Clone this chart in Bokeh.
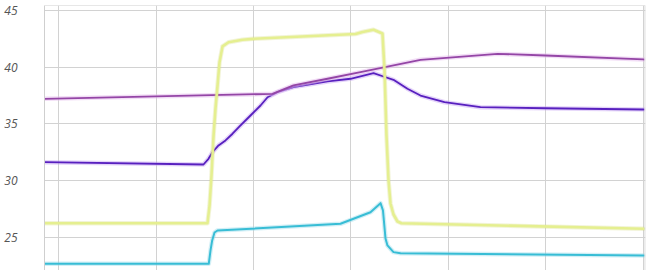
from bokeh.plotting import figure
from bokeh.models import Range1d, FixedTicker, Span
from bokeh.embed import file_html
from bokeh.resources import INLINE

# Sampled readings per series (x in hours, y in units)
lime_x = [0.856, 2.528, 2.549, 2.569, 2.590, 2.610, 2.631, 2.651, 2.682, 2.744, 2.887, 3.0,
          4.046, 4.118, 4.231, 4.323, 4.344, 4.364, 4.385, 4.405, 4.436, 4.477, 4.518, 7.0]
lime_y = [26.24, 26.24, 27.80, 30.45, 33.98, 36.36, 38.39, 40.41, 41.83, 42.20, 42.42, 42.50,
          42.93, 43.10, 43.30, 42.97, 39.71, 33.98, 30.01, 27.98, 27.01, 26.39, 26.24, 25.75]

plum_x = [0.856, 3.195, 3.410, 3.759, 4.097, 4.713, 5.503, 5.995, 7.0]
plum_y = [37.21, 37.65, 38.39, 38.98, 39.56, 40.65, 41.18, 41.03, 40.68]

violet_x = [0.856, 2.487, 2.538, 2.579, 2.641, 2.713, 2.785, 2.867, 2.969, 3.072, 3.144, 3.246,
            3.410, 3.759, 3.995, 4.231, 4.333, 4.436, 4.579, 4.713, 4.959, 5.328, 5.995, 7.0]
violet_y = [31.62, 31.42, 31.92, 32.50, 33.10, 33.54, 34.13, 34.86, 35.74, 36.62, 37.35, 37.80,
            38.24, 38.74, 38.98, 39.47, 39.18, 38.89, 38.10, 37.50, 36.91, 36.47, 36.38, 36.27]

cyan_x = [0.856, 2.541, 2.559, 2.576, 2.600, 2.631, 3.892, 4.026, 4.200, 4.303, 4.328, 4.354,
          4.374, 4.436, 4.508, 7.0]
cyan_y = [22.66, 22.66, 23.84, 24.72, 25.42, 25.60, 26.19, 26.63, 27.21, 28.01, 27.36, 24.89,
          24.28, 23.69, 23.60, 23.40]

y_ticks = [25, 30, 35, 40, 45]
x_ticks = [1, 2, 3, 4, 5, 6, 7]

X_MIN, X_MAX = 0.856, 7.021
Y_MIN, Y_MAX = 22.07, 45.44

p = figure(width=654, height=270, output_backend="svg", toolbar_location=None,
           x_range=Range1d(X_MIN, X_MAX), y_range=Range1d(Y_MIN, Y_MAX),
           min_border_left=44, min_border_right=9, min_border_top=5, min_border_bottom=0)

p.outline_line_color = None
p.background_fill_color = "white"
p.border_fill_color = "white"

p.xaxis.visible = False
p.xgrid.ticker = FixedTicker(ticks=x_ticks)
p.ygrid.ticker = FixedTicker(ticks=y_ticks)
p.xgrid.grid_line_color = "#d2d2d2"
p.ygrid.grid_line_color = "#d2d2d2"

ax = p.yaxis[0]
ax.ticker = FixedTicker(ticks=y_ticks)
ax.axis_line_color = "#cfcfcf"
ax.major_tick_line_color = None
ax.minor_tick_line_color = None
ax.major_tick_out = 0
ax.major_tick_in = 0
ax.minor_tick_out = 0
ax.major_label_standoff = 27
ax.major_label_text_font = "Open Sans"
ax.major_label_text_font_style = "italic"
ax.major_label_text_font_size = "12px"
ax.major_label_text_color = "#555555"

# frame edges on top and right
p.add_layout(Span(location=Y_MAX, dimension="width", line_color="#cfcfcf", line_width=1))
p.add_layout(Span(location=X_MAX - 0.004, dimension="height", line_color="#cfcfcf", line_width=1))


def glow_line(xs, ys, core, halo, width, halo_width, halo_alpha):
    p.line(xs, ys, line_color=halo, line_width=halo_width, line_alpha=halo_alpha,
           line_join="round", line_cap="round")
    p.line(xs, ys, line_color=core, line_width=width, line_join="round", line_cap="round")


glow_line(cyan_x, cyan_y, "#38bdd5", "#8fd8e8", 2.0, 4.5, 0.4)
glow_line(violet_x, violet_y, "#5820bf", "#c4a0f2", 1.8, 4.5, 0.45)
glow_line(plum_x, plum_y, "#9446a6", "#e6bcee", 1.8, 4.5, 0.5)
glow_line(lime_x, lime_y, "#e5ef90", "#d3dc7a", 2.6, 4.5, 0.3)

open("out.html", "w").write(file_html(p, INLINE))
